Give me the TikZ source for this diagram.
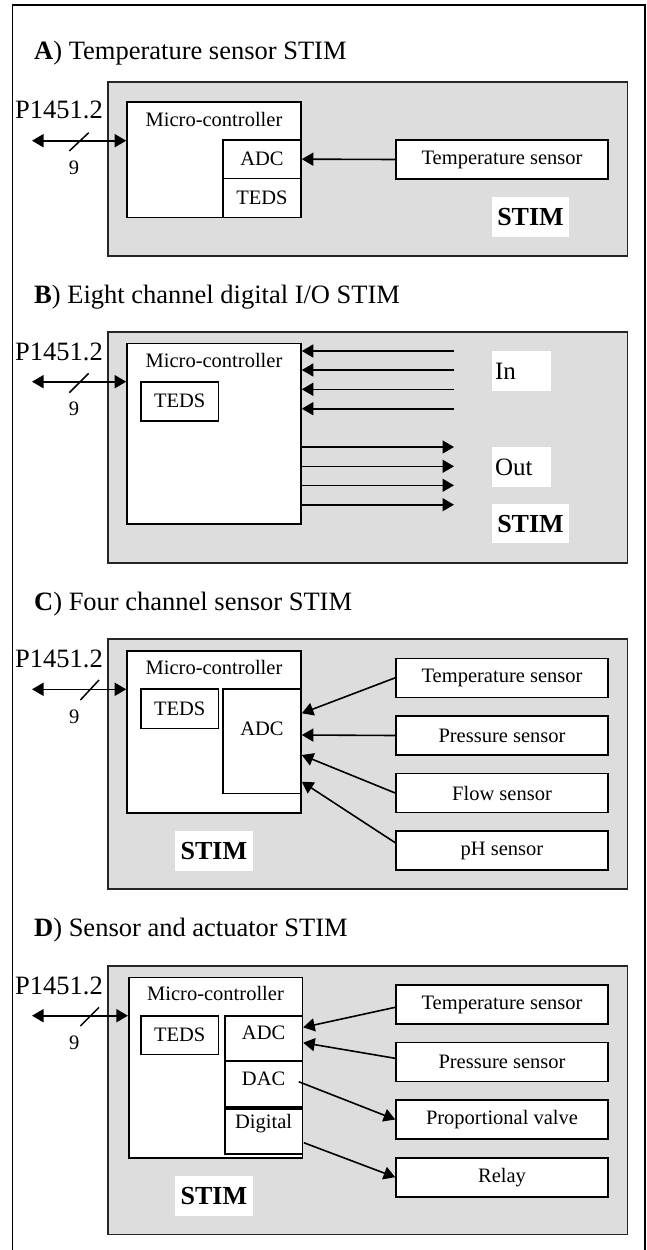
\documentclass[tikz,border=0pt]{standalone}
\usepackage{fontspec}
\setmainfont{Liberation Serif}
\usetikzlibrary{arrows.meta,calc}
\definecolor{panelgray}{RGB}{221,221,221}
\tikzset{
  box/.style={draw=black, line width=1.6pt, fill=white, inner sep=0pt,
              font=\fontsize{20.5}{24}\selectfont},
  stim/.style={draw=black!85, line width=1.8pt, fill=panelgray, inner sep=0pt},
  txt/.style={inner sep=0pt, font=\fontsize{20.5}{24}\selectfont},
  big/.style={inner sep=0pt, font=\fontsize{26.5}{30}\selectfont},
  title/.style={inner sep=0pt, anchor=base west, font=\fontsize{26.5}{30}\selectfont},
  tag/.style={fill=white, inner sep=0pt, font=\fontsize{26}{30}\selectfont\bfseries},
  iolabel/.style={fill=white, inner xsep=3pt, inner ysep=0pt, text width=52.7pt,
              minimum height=39.7pt, align=left, font=\fontsize{25}{30}\selectfont},
  tip/.style={-{Triangle[length=11.5pt,width=13pt]}},
  conn/.style={line width=1.6pt, tip},
  bus/.style={line width=1.6pt, {Triangle[length=11.5pt,width=13pt]}-{Triangle[length=11.5pt,width=13pt]}},
  slash/.style={line width=1.5pt},
}
\begin{document}
\begin{tikzpicture}[x=1pt, y=-1pt]
\useasboundingbox (0,0) rectangle (647,1250);

% outer frame (open at the bottom)
\draw[line width=1.5pt] (12.3,1252) -- (12.3,5) -- (645,5) -- (645,1252);

% ===================== A) Temperature sensor STIM =====================
\node[title] (titA) at (34,59.3) {\textbf{A}) Temperature sensor STIM};
\node[stim, minimum width=519.5pt, minimum height=173.4pt] (stimA) at (367.75,169) {};
\node[box, minimum width=174pt, minimum height=115.6pt] (mcA) at (214,159.5) {};
\node[txt] (mcAt) at (214,119) {Micro-controller};
\node[box, minimum width=78pt, minimum height=38.3pt] (adcA) at (262,159.15) {ADC};
\node[box, minimum width=78pt, minimum height=39pt] (tedsA) at (262,197.8) {TEDS};
\node[box, minimum width=212pt, minimum height=39pt] (tsA) at (502,159.5) {Temperature sensor};
\node[tag, minimum width=77pt, minimum height=40pt] (labA) at (530.5,217) {STIM};
\draw[conn] (tsA.west) -- (adcA.east);
% P1451.2 bus
\node[big, anchor=base] (pA) at (59,118) {P1451.2};
\coordinate (busA) at (32,140.7);
\draw[bus] (busA) -- (busA -| mcA.west);
\draw[slash] (69.3,151) -- (88.7,132.7);
\node[txt] (nA) at (74,168) {9};

% ===================== B) Eight channel digital I/O STIM =====================
\node[title] (titB) at (34,303) {\textbf{B}) Eight channel digital I/O STIM};
\node[stim, minimum width=519.5pt, minimum height=230.4pt] (stimB) at (367.75,447.5) {};
\node[box, minimum width=174pt, minimum height=180.7pt] (mcB) at (214,433.65) {};
\node[txt] (mcBt) at (214,360.7) {Micro-controller};
\node[box, minimum width=77.9pt, minimum height=39pt] (tedsB) at (179.65,401.2) {TEDS};
% digital inputs
\coordinate (inB1) at (454,351);
\coordinate (inB2) at (454,370);
\coordinate (inB3) at (454,389.3);
\coordinate (inB4) at (454,408.7);
\foreach \c in {inB1,inB2,inB3,inB4}
  \draw[conn] (\c) -- (\c -| mcB.east);
% digital outputs
\coordinate (outB1) at (454,447);
\coordinate (outB2) at (454,466.3);
\coordinate (outB3) at (454,485.3);
\coordinate (outB4) at (454,504.7);
\foreach \c in {outB1,outB2,outB3,outB4}
  \draw[conn] (\c -| mcB.east) -- (\c);
\node[iolabel] (inLab) at (521.35,370.85) {In};
\node[iolabel] (outLab) at (521.35,466.85) {Out};
\node[tag, minimum width=77pt, minimum height=39.3pt] (labB) at (530.5,523.65) {STIM};
% P1451.2 bus
\node[big, anchor=base] (pB) at (59,360) {P1451.2};
\coordinate (busB) at (32,381.7);
\draw[bus] (busB) -- (busB -| mcB.west);
\draw[slash] (69.3,392.7) -- (88.7,373.3);
\node[txt] (nB) at (74,409.3) {9};

% ===================== C) Four channel sensor STIM =====================
\node[title] (titC) at (34,610) {\textbf{C}) Four channel sensor STIM};
\node[stim, minimum width=519.5pt, minimum height=250.3pt] (stimC) at (367.75,764.15) {};
\node[box, minimum width=174pt, minimum height=162pt] (mcC) at (214,731.7) {};
\node[txt] (mcCt) at (214,667.7) {Micro-controller};
\node[box, minimum width=77.9pt, minimum height=39.3pt] (tedsC) at (179.65,708.65) {TEDS};
\node[box, minimum width=78pt, minimum height=104.3pt] (adcC) at (262,741.15) {};
\node[txt] (adcCt) at (262,729) {ADC};
\node[box, minimum width=212pt, minimum height=39pt] (tsC) at (502,677.8) {Temperature sensor};
\node[box, minimum width=212pt, minimum height=39pt] (psC) at (502,735.5) {Pressure sensor};
\node[box, minimum width=212pt, minimum height=39pt] (fsC) at (502,793) {Flow sensor};
\node[box, minimum width=212pt, minimum height=39pt] (phC) at (502,850.5) {pH sensor};
\draw[conn] (tsC.west) -- ($(adcC.east)+(0,-27.85)$);
\draw[conn] (psC.west) -- ($(adcC.east)+(0,-6.15)$);
\draw[conn] (fsC.west) -- ($(adcC.east)+(0,13.85)$);
\draw[conn] ($(phC.west)+(0,-7.8)$) -- ($(adcC.east)+(0,40.55)$);
\node[tag, minimum width=77.2pt, minimum height=39.7pt] (labC) at (213.9,850.85) {STIM};
% P1451.2 bus
\node[big, anchor=base] (pC) at (59,667.7) {P1451.2};
\coordinate (busC) at (32,689.3);
\draw[bus] (busC) -- (busC -| mcC.west);
\draw[slash] (80.4,700) -- (99,680);
\node[txt] (nC) at (74.3,717.3) {9};

% ===================== D) Sensor and actuator STIM =====================
\node[title] (titD) at (34,936.7) {\textbf{D}) Sensor and actuator STIM};
\node[stim, minimum width=519.5pt, minimum height=268.8pt] (stimD) at (367.75,1100.1) {};
\node[box, minimum width=173.7pt, minimum height=180.7pt] (mcD) at (215.55,1067.65) {};
\node[txt] (mcDt) at (215.5,993.3) {Micro-controller};
\node[box, minimum width=77.9pt, minimum height=38.6pt] (tedsD) at (179.65,1035) {TEDS};
\node[box, minimum width=77.6pt, minimum height=45.3pt] (adcD) at (263.6,1038.35) {};
\node[txt] (adcDt) at (263.6,1032.7) {ADC};
\node[box, minimum width=77.6pt, minimum height=46pt] (dacD) at (263.6,1084) {};
\node[txt] (dacDt) at (263.6,1078.3) {DAC};
\node[box, minimum width=77.6pt, minimum height=45pt] (digD) at (263.6,1131.5) {};
\node[txt] (digDt) at (263.6,1123.3) {Digital};
\node[box, minimum width=212pt, minimum height=39pt] (tsD) at (502,1004.5) {Temperature sensor};
\node[box, minimum width=212pt, minimum height=39pt] (psD) at (502,1062) {Pressure sensor};
\node[box, minimum width=212pt, minimum height=39pt] (pvD) at (502,1119.5) {Proportional valve};
\node[box, minimum width=212pt, minimum height=39pt] (rlD) at (502,1177.2) {Relay};
\draw[conn] ($(tsD.west)+(0,2.8)$) -- ($(adcD.east)+(0,-11)$);
\draw[conn] ($(psD.west)+(0,-3.7)$) -- ($(adcD.east)+(0,4.35)$);
\draw[conn] ($(dacD.east)+(-4.5,-2.3)$) -- (pvD.west);
\draw[conn] ($(digD.east)+(0.6,11.2)$) -- (rlD.west);
\node[tag, minimum width=77.2pt, minimum height=39.7pt] (labD) at (213.9,1195.85) {STIM};
% P1451.2 bus
\node[big, anchor=base] (pD) at (59,994) {P1451.2};
\coordinate (busD) at (32,1015.7);
\draw[bus] (busD) -- (busD -| mcD.west);
\draw[slash] (80.4,1026) -- (99,1007.3);
\node[txt] (nD) at (74.3,1043.3) {9};
\end{tikzpicture}
\end{document}
